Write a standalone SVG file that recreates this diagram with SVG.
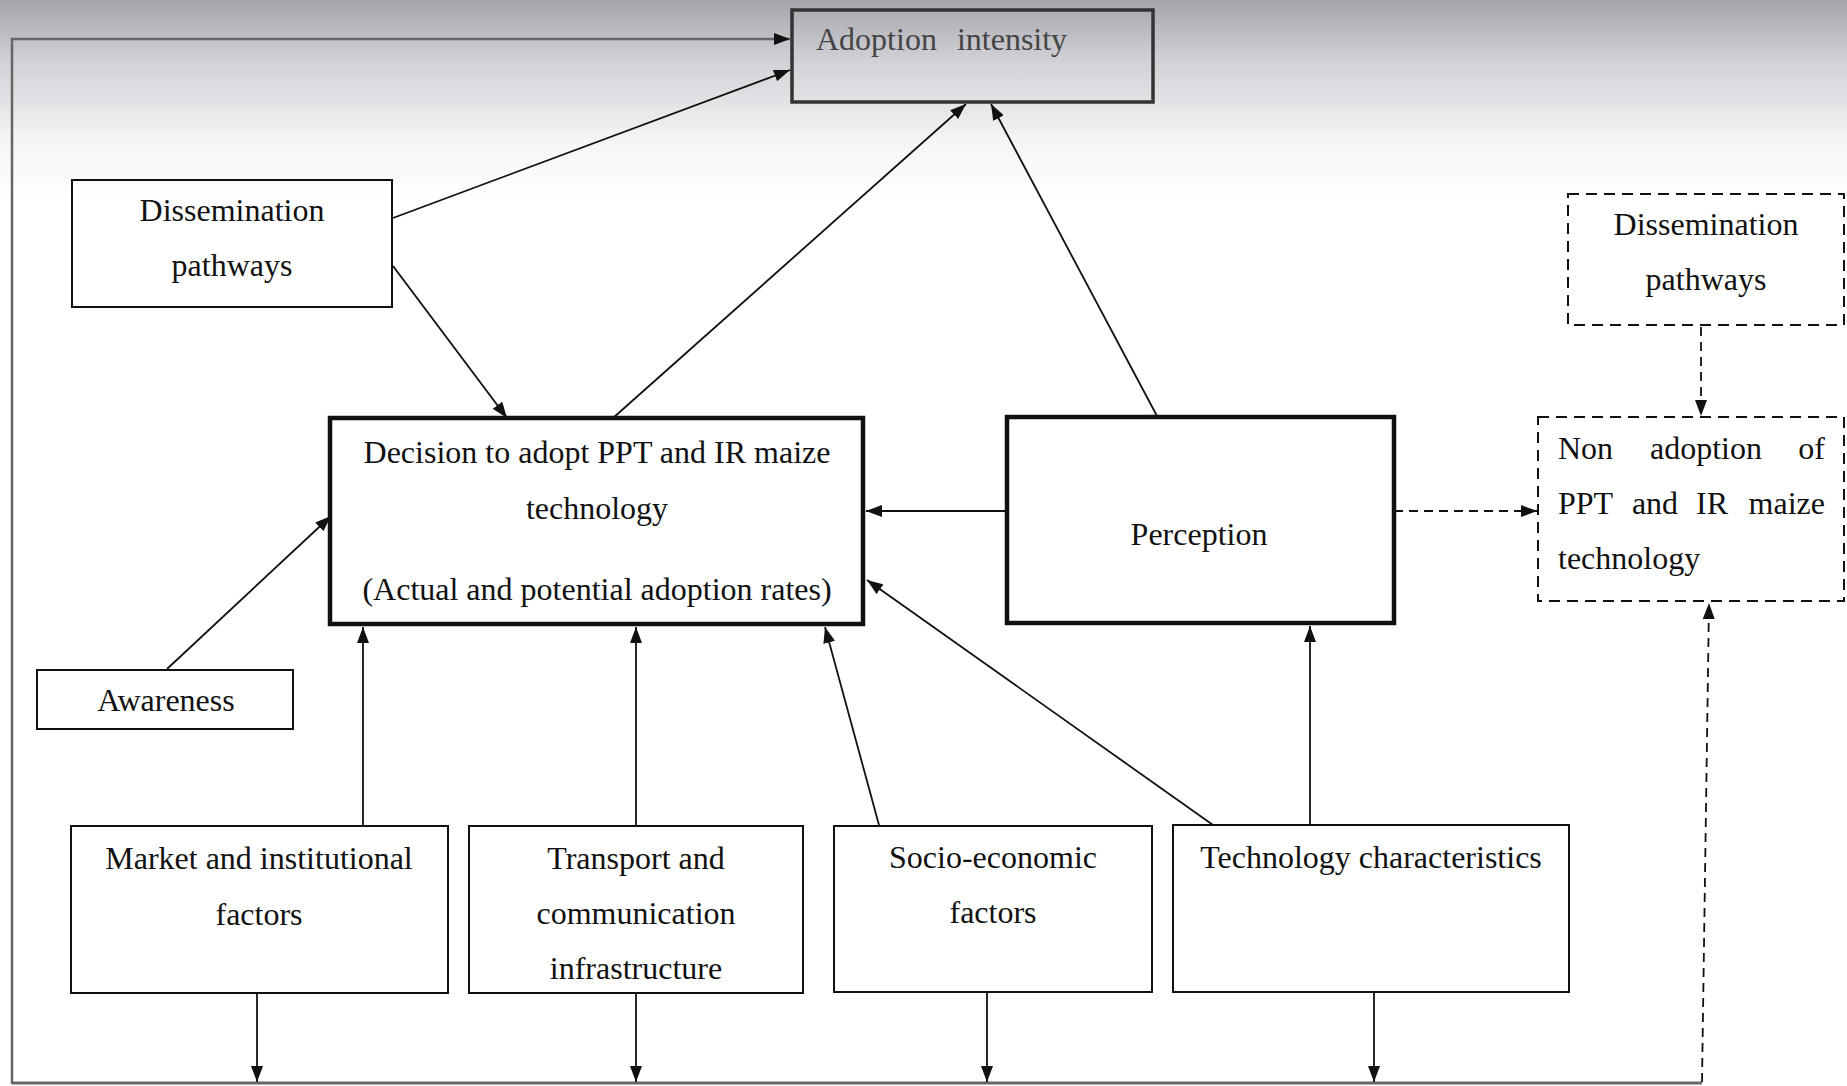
<svg xmlns="http://www.w3.org/2000/svg" width="1847" height="1086" viewBox="0 0 1847 1086">
<defs>
<linearGradient id="bg" x1="0" y1="0" x2="0" y2="200" gradientUnits="userSpaceOnUse">
<stop offset="0" stop-color="#a4a4ac"/>
<stop offset="0.3" stop-color="#d0d0d6"/>
<stop offset="0.7" stop-color="#f5f5f6"/>
<stop offset="1" stop-color="#ffffff"/>
</linearGradient>
<marker id="ah" markerUnits="userSpaceOnUse" markerWidth="16" markerHeight="12" viewBox="0 0 16 12" refX="16" refY="6" orient="auto">
<path d="M0,0 L16,6 L0,12 z" fill="#111"/>
</marker>
<style>
text{font-family:"Liberation Serif","Times New Roman",serif;font-size:32px;fill:#111}
.c{text-anchor:middle}
.e{text-anchor:end}
.box{fill:none;stroke:#111;stroke-width:2}
.thick{fill:none;stroke:#111;stroke-width:4.5}
.dash{fill:none;stroke:#111;stroke-width:2;stroke-dasharray:11 7}
.ln{fill:none;stroke:#111;stroke-width:1.8}
.dl{fill:none;stroke:#111;stroke-width:1.8;stroke-dasharray:9 6}
</style>
</defs>
<rect x="0" y="0" width="1847" height="1086" fill="#fff"/>
<rect x="0" y="0" width="1847" height="200" fill="url(#bg)"/>

<g id="connectors">
<path class="ln" d="M12,1084 V39 H790" style="stroke:#666;stroke-width:2.5" marker-end="url(#ah)"/>
<path class="ln" d="M12,1083 H1702" style="stroke:#666;stroke-width:3"/>
<line class="ln" x1="393" y1="218" x2="790" y2="70" marker-end="url(#ah)"/>
<line class="ln" x1="393" y1="266" x2="507" y2="418" marker-end="url(#ah)"/>
<line class="ln" x1="613" y1="418" x2="966" y2="104" marker-end="url(#ah)"/>
<line class="ln" x1="1157" y1="416" x2="991" y2="104" marker-end="url(#ah)"/>
<line class="ln" x1="1007" y1="511" x2="866" y2="511" marker-end="url(#ah)"/>
<line class="dl" x1="1394" y1="511" x2="1537" y2="511" marker-end="url(#ah)"/>
<line class="dl" x1="1701" y1="327" x2="1701" y2="416" marker-end="url(#ah)"/>
<line class="dl" x1="1702" y1="1082" x2="1709" y2="603" marker-end="url(#ah)"/>
<line class="ln" x1="167" y1="669" x2="331" y2="516" marker-end="url(#ah)"/>
<line class="ln" x1="363" y1="825" x2="363" y2="627" marker-end="url(#ah)"/>
<line class="ln" x1="636" y1="825" x2="636" y2="627" marker-end="url(#ah)"/>
<line class="ln" x1="879" y1="825" x2="825" y2="627" marker-end="url(#ah)"/>
<line class="ln" x1="1213" y1="825" x2="867" y2="580" marker-end="url(#ah)"/>
<line class="ln" x1="1310" y1="825" x2="1310" y2="626" marker-end="url(#ah)"/>
<line class="ln" x1="257" y1="994" x2="257" y2="1082" marker-end="url(#ah)"/>
<line class="ln" x1="636" y1="994" x2="636" y2="1082" marker-end="url(#ah)"/>
<line class="ln" x1="987" y1="993" x2="987" y2="1082" marker-end="url(#ah)"/>
<line class="ln" x1="1374" y1="993" x2="1374" y2="1082" marker-end="url(#ah)"/>
</g>

<g id="adoption-intensity">
<rect class="thick" x="792" y="10" width="361" height="92" style="stroke-width:3.5;stroke:#333"/>
<text x="816" y="50" style="fill:#444;word-spacing:12px">Adoption intensity</text>
</g>

<g id="dissemination-left">
<rect class="box" x="72" y="180" width="320" height="127"/>
<text class="c" x="232" y="221">Dissemination</text>
<text class="c" x="232" y="276">pathways</text>
</g>

<g id="decision">
<rect class="thick" x="330" y="418" width="533" height="206"/>
<text class="c" x="597" y="463">Decision to adopt PPT and IR maize</text>
<text class="c" x="597" y="519">technology</text>
<text class="c" x="597" y="600">(Actual and potential adoption rates)</text>
</g>

<g id="perception">
<rect class="thick" x="1007" y="417" width="387" height="206"/>
<text class="c" x="1199" y="545">Perception</text>
</g>

<g id="dissemination-right">
<rect class="dash" x="1568" y="194" width="276" height="131"/>
<text class="c" x="1706" y="235">Dissemination</text>
<text class="c" x="1706" y="290">pathways</text>
</g>

<g id="non-adoption">
<rect class="dash" x="1538" y="417" width="306" height="184"/>
<text x="1558" y="459">Non</text>
<text class="c" x="1706" y="459">adoption</text>
<text class="e" x="1825" y="459">of</text>
<text x="1558" y="514">PPT</text>
<text class="c" x="1655" y="514">and</text>
<text class="c" x="1712" y="514">IR</text>
<text class="e" x="1825" y="514">maize</text>
<text x="1558" y="569">technology</text>
</g>

<g id="awareness">
<rect class="box" x="37" y="670" width="256" height="59"/>
<text class="c" x="166" y="711">Awareness</text>
</g>

<g id="market">
<rect class="box" x="71" y="826" width="377" height="167"/>
<text class="c" x="259" y="869">Market and institutional</text>
<text class="c" x="259" y="925">factors</text>
</g>

<g id="transport">
<rect class="box" x="469" y="826" width="334" height="167"/>
<text class="c" x="636" y="869">Transport and</text>
<text class="c" x="636" y="924">communication</text>
<text class="c" x="636" y="979">infrastructure</text>
</g>

<g id="socio-economic">
<rect class="box" x="834" y="826" width="318" height="166"/>
<text class="c" x="993" y="868">Socio-economic</text>
<text class="c" x="993" y="923">factors</text>
</g>

<g id="technology">
<rect class="box" x="1173" y="825" width="396" height="167"/>
<text class="c" x="1371" y="868">Technology characteristics</text>
</g>
</svg>
